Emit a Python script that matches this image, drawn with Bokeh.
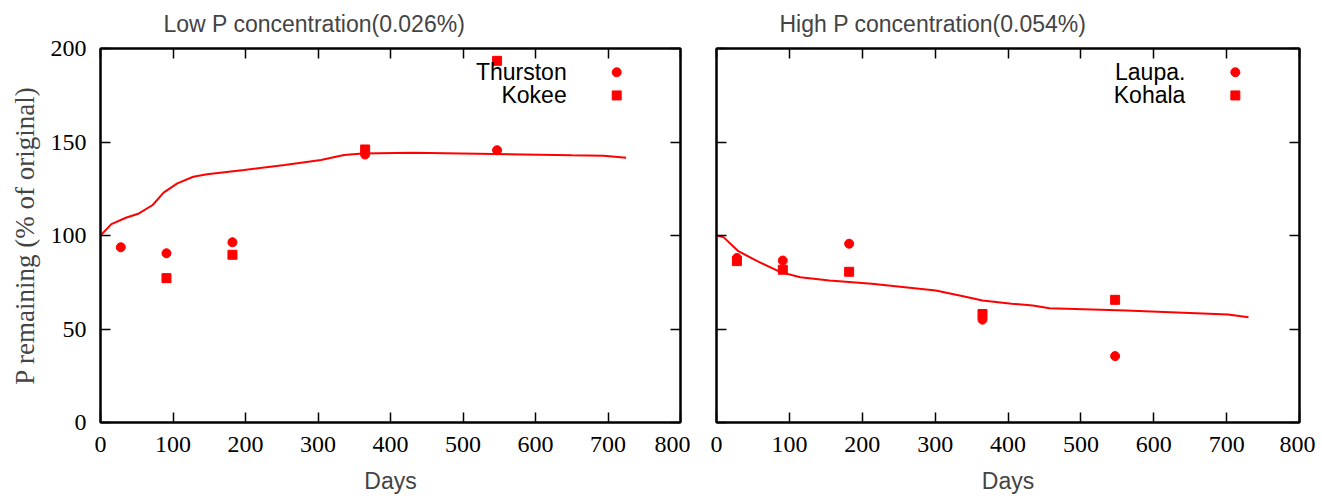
from bokeh.plotting import figure
from bokeh.layouts import row
from bokeh.models import LinearAxis, FixedTicker, Range1d, Label, CustomLabelingPolicy
from bokeh.embed import file_html
from bokeh.resources import INLINE

# ---------------- data ----------------
days_pts = [28, 91, 182, 365, 547]
thurston = [93.7, 90.5, 96.4, 143.3, 145.6]
kokee_days = [91, 182, 365, 547]
kokee = [77.2, 89.7, 146.0, 193.4]

laupa = [88.0, 86.6, 95.6, 55.0, 35.5]
kohala = [86.3, 81.7, 80.6, 58.0, 65.6]

low_curve_days = [0, 15, 35, 53, 72, 87, 106, 128, 147, 198, 254, 304, 336, 361, 430, 543, 650, 694, 725]
low_curve_vals = [100, 106.1, 109.5, 111.8, 116.3, 122.9, 127.9, 131.4, 132.7, 135.0, 137.7, 140.4, 143.0, 143.9, 144.3, 143.6, 142.9, 142.7, 141.6]

high_curve_days = [0, 10, 30, 56, 88, 115, 155, 213, 301, 340, 365, 405, 434, 457, 562, 702, 730]
high_curve_vals = [100, 99.0, 91.6, 86.3, 80.4, 77.7, 75.9, 74.2, 70.6, 67.4, 65.2, 63.5, 62.6, 61.1, 59.9, 57.8, 56.3]

x_ticks = [0, 100, 200, 300, 400, 500, 600, 700, 800]
y_ticks = [0, 50, 100, 150, 200]

titles = ["Low P concentration(0.026%)", "High P concentration(0.054%)"]
legend_names = [["Thurston", "Kokee"], ["Laupa.", "Kohala"]]

RED = "#ff0000"
SERIF = "Liberation Serif"
SANS = "Liberation Sans"
HEIGHT = 496


def base_axis(ax, ticks):
    ax.ticker = FixedTicker(ticks=ticks)
    ax.major_tick_in = 10
    ax.major_tick_out = 0
    ax.minor_tick_in = 0
    ax.minor_tick_out = 0
    ax.major_tick_line_color = "black"
    ax.major_tick_line_width = 1.5
    ax.axis_line_color = "black"
    ax.axis_line_width = 2


def hide_labels(ax):
    ax.major_label_policy = CustomLabelingPolicy(code="return []")
    ax.major_label_text_font_size = "1px"
    ax.major_label_standoff = 0


def make_panel(idx, width, border_left, border_right, show_ylabels):
    p = figure(width=width, height=HEIGHT, output_backend="svg", toolbar_location=None,
               x_range=Range1d(0, 800), y_range=Range1d(0, 200),
               min_border_left=border_left, min_border_right=border_right,
               min_border_top=48, min_border_bottom=74)
    p.outline_line_color = "black"
    p.outline_line_width = 2
    p.xgrid.visible = False
    p.ygrid.visible = False

    p.title.text = titles[idx]
    p.title.text_font = SANS
    p.title.text_font_style = "normal"
    p.title.text_font_size = "23px"
    p.title.align = "left"
    p.title.offset = 63
    p.title.standoff = 16

    xa = p.xaxis[0]
    ya = p.yaxis[0]
    base_axis(xa, x_ticks)
    base_axis(ya, y_ticks)
    for ax in (xa, ya):
        ax.major_label_text_font = SERIF
        ax.major_label_text_font_size = "24px"
        ax.major_label_text_color = "black"
    xa.major_label_standoff = 14
    xa.axis_label = "Days"
    xa.axis_label_text_font = SANS
    xa.axis_label_text_font_style = "normal"
    xa.axis_label_text_font_size = "23px"
    xa.axis_label_standoff = 13
    if show_ylabels:
        ya.major_label_standoff = 14
        ya.axis_label = "P remaining (% of original)"
        ya.axis_label_text_font = SERIF
        ya.axis_label_text_font_style = "normal"
        ya.axis_label_text_font_size = "27px"
        ya.axis_label_standoff = 8
    else:
        hide_labels(ya)

    ra = LinearAxis()
    ta = LinearAxis()
    base_axis(ra, y_ticks)
    base_axis(ta, x_ticks)
    hide_labels(ra)
    hide_labels(ta)
    p.add_layout(ra, "right")
    p.add_layout(ta, "above")
    return p


p1 = make_panel(0, 690, 100, 10, True)
p2 = make_panel(1, 625, 26, 16, False)

# left panel data
p1.line(low_curve_days, low_curve_vals, line_color=RED, line_width=2)
p1.scatter(days_pts, thurston, marker="circle", size=9, color=RED)
p1.scatter(kokee_days, kokee, marker="square", size=9, color=RED)

# right panel data
p2.line(high_curve_days, high_curve_vals, line_color=RED, line_width=2)
p2.scatter(days_pts, laupa, marker="circle", size=9, color=RED)
p2.scatter(days_pts, kohala, marker="square", size=9, color=RED)

# legends (text left of sample, gnuplot style)
LEG_X = 712
LEG_Y = [187.3, 174.9]
for p, names in ((p1, legend_names[0]), (p2, legend_names[1])):
    for name, ly in zip(names, LEG_Y):
        p.add_layout(Label(x=LEG_X, y=ly, text=name, x_offset=-50, text_align="right",
                           text_baseline="middle", text_font=SANS, text_font_size="23px",
                           text_color="black"))
    p.scatter([LEG_X], [LEG_Y[0]], marker="circle", size=9, color=RED)
    p.scatter([LEG_X], [LEG_Y[1]], marker="square", size=9, color=RED)

layout = row(p1, p2)
open("out.html", "w").write(file_html(layout, INLINE))
